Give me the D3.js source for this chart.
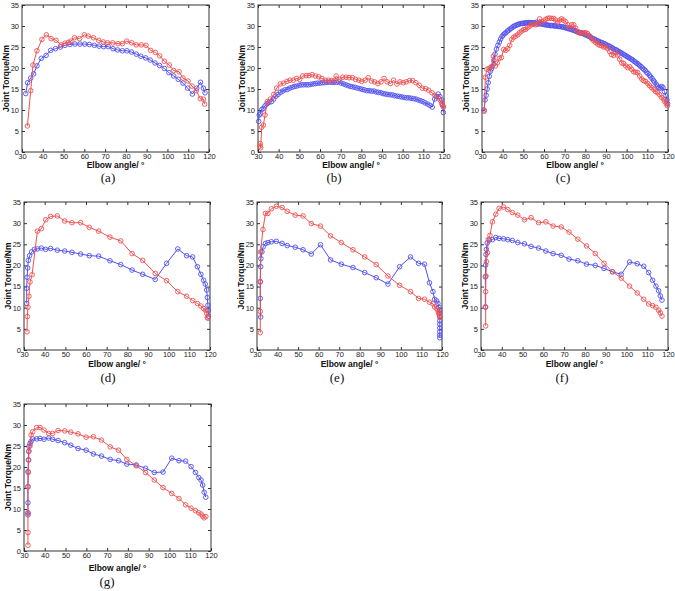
<!DOCTYPE html>
<html><head><meta charset="utf-8">
<script src="https://cdn.jsdelivr.net/npm/d3@7"></script>
<style>
html,body{margin:0;padding:0;background:#fff;}
svg{display:block;}
</style></head>
<body>
<svg id="chart" width="675" height="591"></svg>
<script>
// ---------- data (elbow angle in degrees, joint torque in Nm) ----------
const xTicks = [30,40,50,60,70,80,90,100,110,120];
const yTicks = [0,5,10,15,20,25,30,35];
const panelLabels = ["(a)","(b)","(c)","(d)","(e)","(f)","(g)"];
const xTitle = "Elbow angle/ °";
const yTitle = "Joint Torque/Nm";

const redA = [[32.6,6.2],[34.2,14.6],[35.3,20.7],[37.2,24.1],[39.6,26.8],[41.7,27.9],[44.0,27.0],[46.4,26.6],[48.8,25.5],[50.7,25.9],[52.3,26.1],[53.5,26.4],[55.3,27.2],[57.7,27.0],[60.0,27.9],[61.9,27.6],[64.4,27.2],[66.9,26.6],[69.1,26.2],[71.2,26.0],[73.7,26.0],[76.2,25.8],[78.3,25.8],[80.4,26.4],[82.8,26.0],[85.0,25.5],[87.4,25.5],[89.7,25.4],[91.9,24.2],[94.2,23.7],[96.3,22.9],[98.5,21.6],[100.9,20.7],[103.0,19.4],[105.6,19.1],[107.5,17.6],[109.9,16.9],[111.8,15.7],[113.9,14.6],[115.8,12.7],[117.3,12.6],[117.9,11.4]];
const blueA = [[31.8,13.9],[32.7,16.5],[34.2,17.6],[35.6,18.6],[37.2,20.5],[39.3,22.3],[41.6,23.0],[43.8,24.2],[46.1,24.6],[48.5,25.0],[50.7,25.4],[53.1,25.6],[55.5,25.7],[57.9,25.7],[60.2,25.7],[62.4,25.6],[64.8,25.4],[67.1,25.2],[69.3,25.1],[71.5,25.1],[73.8,24.6],[76.0,24.3],[78.3,24.1],[80.5,24.1],[82.7,23.8],[85.0,23.3],[87.2,22.8],[89.5,22.4],[91.7,21.9],[94.0,21.2],[96.2,20.6],[98.5,19.9],[100.7,18.9],[103.0,18.1],[105.2,17.3],[107.5,16.4],[109.7,15.2],[112.0,13.8],[114.1,15.2],[115.9,16.6],[117.3,15.2],[118.1,14.1]];

const redB = [[31.0,1.4],[31.1,2.0],[31.3,1.0],[31.8,5.9],[32.6,6.4],[33.4,8.8],[34.5,12.0],[36.0,12.6],[37.6,13.7],[39.0,15.2],[40.8,16.2],[42.4,16.4],[44.0,16.8],[45.5,17.1],[47.1,17.1],[48.7,17.5],[50.2,17.3],[51.6,18.1],[53.3,18.2],[54.7,18.2],[56.2,18.4],[57.8,18.1],[59.4,17.9],[60.9,17.5],[62.5,17.1],[64.0,17.1],[65.5,17.0],[67.2,17.1],[67.8,18.1],[69.6,17.3],[71.0,17.8],[72.6,17.8],[74.1,17.7],[75.7,17.7],[77.2,17.3],[78.8,17.1],[80.2,16.8],[81.9,17.1],[83.3,17.7],[84.9,16.9],[86.4,16.7],[88.0,16.3],[89.5,16.7],[91.0,17.5],[92.5,16.7],[94.1,16.3],[95.6,17.1],[97.2,16.2],[98.7,16.7],[100.3,16.5],[101.7,16.7],[103.3,17.0],[104.8,17.0],[106.4,16.5],[108.0,15.9],[109.5,15.2],[111.1,15.1],[112.6,14.7],[114.2,14.1],[115.6,13.5],[117.2,12.9],[118.2,12.3],[118.9,11.6],[119.3,11.1],[119.7,10.7]];
const blueB = [[30.3,7.3],[30.6,8.8],[31.1,9.1],[31.8,10.1],[32.6,10.4],[33.4,11.0],[34.4,11.5],[35.3,11.8],[36.5,12.0],[37.6,12.6],[38.6,13.3],[39.7,13.7],[40.8,14.2],[41.9,14.5],[43.0,14.8],[44.2,14.9],[45.3,15.2],[46.5,15.4],[47.6,15.6],[48.7,15.7],[49.9,15.9],[51.0,16.0],[52.1,16.0],[53.3,16.0],[54.4,16.0],[55.5,16.1],[56.7,16.2],[57.8,16.3],[58.9,16.4],[60.1,16.4],[61.2,16.5],[62.3,16.5],[63.4,16.6],[64.6,16.6],[65.7,16.6],[66.8,16.6],[68.0,16.6],[69.1,16.7],[70.2,16.4],[71.4,16.2],[72.5,16.0],[73.6,15.8],[74.8,15.6],[75.9,15.5],[77.0,15.4],[78.1,15.2],[79.3,15.1],[80.4,14.9],[81.5,14.8],[82.7,14.6],[83.8,14.6],[84.9,14.5],[86.1,14.5],[87.2,14.3],[88.3,14.2],[89.5,14.1],[90.6,13.9],[91.7,13.8],[92.8,13.7],[94.0,13.6],[95.1,13.6],[96.2,13.4],[97.4,13.3],[98.5,13.2],[99.6,13.1],[100.8,13.0],[101.9,12.9],[103.0,12.9],[104.1,12.8],[105.3,12.7],[106.4,12.6],[107.5,12.4],[108.7,12.2],[109.8,12.0],[110.9,11.7],[112.1,11.4],[113.2,11.1],[114.3,10.7],[115.5,12.6],[116.3,13.2],[117.2,13.8],[118.0,13.2],[118.9,12.4],[119.3,11.2],[119.7,9.4]];

const redC = [[31.1,9.7],[31.6,17.8],[32.4,19.7],[33.5,19.9],[34.5,20.3],[35.5,22.8],[36.5,20.5],[37.4,21.2],[38.4,22.3],[39.4,22.5],[40.5,24.4],[41.5,24.2],[42.4,24.6],[43.4,25.4],[44.4,26.8],[45.3,27.3],[46.3,27.6],[47.3,27.9],[48.2,28.4],[49.2,28.8],[50.2,29.1],[51.1,29.2],[52.1,29.6],[53.1,30.0],[54.0,30.3],[55.0,30.4],[56.0,30.3],[56.9,30.4],[57.9,31.7],[58.9,30.9],[59.8,31.2],[60.8,31.6],[61.8,31.8],[62.7,31.9],[63.7,31.8],[64.7,31.8],[65.6,31.4],[66.6,30.9],[67.6,31.4],[68.5,31.7],[69.5,31.4],[70.5,31.0],[71.5,30.3],[72.4,29.6],[73.4,30.3],[74.4,30.3],[75.3,29.5],[76.3,28.6],[77.3,28.3],[78.2,28.4],[79.2,28.4],[80.2,28.4],[81.1,28.2],[82.1,27.6],[83.1,27.0],[84.0,26.5],[85.0,26.1],[86.0,25.7],[86.9,25.4],[87.9,25.3],[88.9,25.0],[89.8,25.0],[90.8,24.6],[91.8,23.9],[92.7,23.2],[93.7,23.0],[94.7,23.6],[95.6,23.1],[96.6,22.1],[97.6,21.2],[98.5,21.1],[99.5,20.5],[100.5,20.1],[101.5,20.3],[102.4,19.7],[103.4,19.1],[104.4,19.0],[105.3,18.9],[106.3,18.1],[107.3,17.4],[108.2,17.0],[109.2,16.8],[110.2,16.3],[111.1,15.8],[112.1,15.3],[113.1,14.9],[114.0,14.4],[115.0,14.1],[116.0,13.6],[116.9,13.0],[117.9,12.6],[118.5,12.0],[119.2,11.5],[119.7,11.0]];
const blueC = [[31.0,10.0],[31.5,12.4],[32.0,13.5],[32.5,15.0],[33.0,16.5],[33.5,18.0],[34.0,19.2],[34.5,19.8],[35.0,20.4],[35.7,21.8],[36.3,23.3],[37.0,24.5],[37.7,25.4],[38.4,26.2],[39.0,26.9],[39.7,27.5],[40.3,27.9],[41.0,28.2],[41.6,28.4],[42.3,28.8],[43.0,29.0],[43.6,29.3],[44.3,29.5],[45.0,29.8],[45.6,30.0],[46.3,30.1],[47.0,30.3],[47.6,30.4],[48.3,30.5],[49.0,30.6],[49.6,30.6],[50.3,30.7],[51.0,30.7],[51.6,30.8],[52.3,30.8],[53.0,30.8],[53.6,30.8],[54.3,30.8],[55.0,30.7],[55.6,30.7],[56.3,30.9],[57.0,30.7],[57.6,30.6],[58.3,30.5],[59.0,30.5],[59.6,30.4],[60.3,30.3],[61.0,30.3],[61.6,30.2],[62.3,30.2],[63.0,30.1],[63.6,30.1],[64.3,30.1],[65.0,30.0],[65.6,30.0],[66.3,30.0],[67.0,29.9],[67.6,29.9],[68.3,29.8],[69.0,29.8],[69.6,29.7],[70.3,29.6],[71.0,29.5],[71.6,29.4],[72.3,29.3],[73.0,29.2],[73.6,29.1],[74.3,29.0],[75.0,28.9],[75.6,28.7],[76.3,28.6],[77.0,28.5],[77.6,28.4],[78.3,28.3],[79.0,28.2],[79.6,28.0],[80.3,27.9],[81.0,27.7],[81.6,27.6],[82.3,27.4],[83.0,27.2],[83.6,27.0],[84.3,26.9],[85.0,26.7],[85.6,26.5],[86.3,26.4],[87.0,26.2],[87.6,26.1],[88.3,26.0],[89.0,25.8],[89.6,25.7],[90.3,25.5],[91.0,25.3],[91.6,25.2],[92.3,25.0],[93.0,24.8],[93.6,24.6],[94.3,24.4],[95.0,24.3],[95.6,24.1],[96.3,23.9],[97.0,23.7],[97.6,23.5],[98.3,23.3],[99.0,23.1],[99.6,22.9],[100.3,22.7],[101.0,22.5],[101.6,22.3],[102.3,22.1],[103.0,21.9],[103.6,21.6],[104.3,21.4],[105.0,21.1],[105.6,20.9],[106.3,20.6],[107.0,20.3],[107.6,20.0],[108.3,19.7],[109.0,19.4],[109.6,19.0],[110.3,18.7],[111.0,18.3],[111.6,17.9],[112.3,17.5],[113.0,17.0],[113.6,16.6],[114.3,16.1],[115.0,15.7],[115.6,15.3],[116.3,15.2],[117.0,15.6],[117.6,15.3],[118.3,14.4],[119.0,13.4],[119.5,12.4],[119.8,11.5]];

const redD = [[31.45,4.3],[31.6,7.9],[31.9,10.1],[32.4,12.7],[32.9,16.1],[33.9,17.8],[36.5,28.1],[38.4,28.7],[40.5,30.8],[42.9,31.6],[46.1,31.7],[49.7,30.5],[53.2,30.1],[57.4,30.1],[61.6,29.0],[66.1,28.1],[71.6,26.7],[76.8,25.8],[82.3,22.8],[87.4,21.2],[93.5,18.1],[99.0,16.4],[104.4,13.8],[108.7,12.7],[111.6,11.7],[113.9,11.0],[115.6,10.4],[116.9,9.8],[117.9,9.4],[118.4,8.7],[118.7,7.7],[119.0,7.5]];
const blueD = [[31.3,11.0],[31.3,14.6],[31.5,17.2],[31.8,19.4],[32.1,21.2],[32.7,22.3],[33.7,23.2],[35.0,23.8],[36.5,23.9],[38.4,24.1],[40.5,23.8],[42.9,24.0],[46.1,23.6],[49.7,23.4],[53.2,23.1],[57.4,22.7],[61.6,22.3],[66.1,22.2],[71.6,21.1],[76.8,20.2],[82.3,18.9],[87.4,17.9],[93.5,16.7],[99.0,20.5],[104.4,23.9],[108.7,22.3],[111.6,22.0],[113.9,19.7],[115.6,17.9],[116.9,16.5],[117.7,15.6],[118.4,14.2],[118.7,12.4],[119.0,10.6],[119.2,9.4],[119.2,8.0]];

const redE = [[31.6,4.1],[31.6,9.1],[31.6,16.2],[31.7,23.2],[32.9,28.5],[34.1,32.3],[35.3,32.3],[37.0,33.4],[39.4,34.0],[42.2,33.7],[44.7,32.8],[48.6,31.9],[52.4,31.7],[56.4,29.9],[60.9,29.3],[65.8,27.0],[71.0,25.4],[76.7,23.7],[82.4,22.0],[88.0,20.2],[93.7,17.5],[99.4,15.3],[104.7,13.8],[108.6,12.2],[111.5,12.0],[113.9,11.3],[115.6,10.9],[116.4,10.2],[117.4,9.8],[118.0,9.4],[118.3,8.8],[118.7,8.5],[118.8,8.1],[119.0,7.7]];
const blueE = [[31.8,7.8],[31.6,12.2],[31.6,16.1],[31.8,19.7],[31.9,21.6],[32.4,23.2],[33.0,24.4],[34.1,25.2],[35.3,25.4],[37.0,25.6],[39.4,25.7],[42.2,25.2],[44.7,24.7],[48.6,24.3],[52.4,23.7],[56.4,22.7],[60.9,24.9],[65.8,21.3],[71.0,20.3],[76.7,19.5],[82.4,18.3],[88.0,17.1],[93.7,15.6],[99.4,19.7],[104.7,22.0],[108.6,20.5],[111.5,20.3],[113.9,15.9],[115.6,13.8],[116.4,12.0],[117.4,11.6],[118.0,11.0],[118.5,10.1],[118.8,9.4],[118.9,8.7],[118.9,7.9],[118.9,6.9],[118.9,6.1],[118.9,5.2],[118.9,4.3],[118.9,3.5],[118.9,2.9]];

const redF = [[32.25,5.7],[32.25,10.1],[32.25,13.8],[32.4,17.5],[32.6,20.9],[33.1,23.0],[33.5,26.1],[34.3,27.1],[35.5,30.3],[37.1,32.1],[38.7,33.5],[40.9,33.8],[42.9,33.2],[45.1,32.5],[47.7,31.9],[50.9,30.8],[54.1,31.3],[57.7,30.1],[61.2,30.3],[64.7,29.3],[68.6,29.1],[72.4,27.9],[76.6,26.2],[80.8,24.6],[85.0,22.8],[89.2,20.5],[93.3,18.5],[97.5,17.0],[101.5,15.1],[105.2,13.5],[108.3,12.0],[110.7,10.9],[112.6,10.5],[114.2,10.1],[115.5,9.4],[116.3,8.8],[117.1,8.0]];
const blueF = [[32.1,10.2],[32.1,17.3],[32.25,20.1],[32.4,22.6],[32.6,23.8],[33.0,25.3],[34.0,26.0],[35.5,26.1],[37.1,26.6],[38.7,26.4],[40.9,26.3],[42.9,26.1],[45.1,25.9],[47.7,25.4],[50.9,25.1],[54.1,24.5],[57.7,24.1],[61.2,23.4],[64.7,22.8],[68.6,22.4],[72.4,21.5],[76.6,21.1],[80.8,20.3],[85.0,20.0],[89.2,19.3],[93.3,18.5],[97.5,17.9],[101.5,20.8],[105.2,20.4],[108.3,19.8],[110.7,18.3],[112.6,16.5],[114.2,15.1],[115.5,14.0],[116.3,12.8],[117.1,11.8]];

const redG = [[31.9,1.35],[31.9,4.4],[31.9,9.0],[31.9,15.3],[32.1,18.7],[32.25,21.7],[32.4,23.8],[32.9,25.0],[33.4,27.6],[34.2,28.4],[36.1,29.4],[37.7,29.4],[39.6,28.8],[41.9,28.0],[43.8,28.0],[46.4,28.7],[49.6,28.6],[52.5,28.3],[56.0,27.9],[59.9,27.1],[63.4,27.2],[67.3,26.4],[71.5,24.8],[75.5,24.0],[79.5,21.8],[84.0,20.3],[88.5,18.7],[92.7,16.9],[96.9,15.1],[101.1,13.7],[104.6,12.5],[107.8,11.0],[110.4,10.2],[112.5,9.6],[114.1,9.1],[115.2,8.8],[116.0,8.3],[116.7,7.9],[117.5,8.2]];
const blueG = [[31.9,8.6],[31.9,9.1],[31.9,11.5],[31.9,15.3],[31.9,18.9],[32.1,21.7],[32.25,23.7],[32.4,24.9],[32.9,25.6],[33.4,26.1],[34.2,26.7],[36.1,26.7],[37.7,26.8],[39.6,26.6],[41.9,26.9],[43.8,26.6],[46.4,26.3],[49.6,25.8],[52.5,25.2],[56.0,24.4],[59.9,24.0],[63.4,23.1],[67.3,22.6],[71.5,21.8],[75.5,21.5],[79.5,20.7],[84.0,20.5],[88.5,19.7],[92.7,18.7],[96.9,18.8],[101.1,22.1],[104.6,21.5],[107.8,21.4],[110.4,20.1],[112.5,18.7],[114.1,17.5],[115.2,16.9],[116.0,15.7],[116.7,14.0],[117.5,12.8]];

// ---------- layout ----------
const svg = d3.select("#chart");
const RED = "#f05050", BLUE = "#5050f0", AXIS = "#333";
const SANS = "'Liberation Sans', Arial, sans-serif";
const SERIF = "'Liberation Serif', 'Times New Roman', serif";
const panels = [
  {label: panelLabels[0], red: redA, blue: blueA, box: [22, 5, 209, 152],   labelX: 108, titleDy: 16, labelDy: 30},
  {label: panelLabels[1], red: redB, blue: blueB, box: [258, 5, 444, 152],  labelX: 334, titleDy: 16, labelDy: 30},
  {label: panelLabels[2], red: redC, blue: blueC, box: [482, 5, 668, 152],  labelX: 563, titleDy: 16, labelDy: 30},
  {label: panelLabels[3], red: redD, blue: blueD, box: [24, 202, 210, 350], labelX: 108, titleDy: 17, labelDy: 32},
  {label: panelLabels[4], red: redE, blue: blueE, box: [257, 202, 442, 350],labelX: 337, titleDy: 17, labelDy: 32},
  {label: panelLabels[5], red: redF, blue: blueF, box: [481, 202, 668, 350],labelX: 562, titleDy: 17, labelDy: 32},
  {label: panelLabels[6], red: redG, blue: blueG, box: [24, 404, 211, 551], labelX: 107, titleDy: 20, labelDy: 35}
];

panels.forEach(p => {
  const [x0, y0, x1, y1] = p.box;
  const x = d3.scaleLinear().domain([30, 120]).range([x0, x1]);
  const y = d3.scaleLinear().domain([0, 35]).range([y1, y0]);
  const g = svg.append("g");

  const tickStyle = sel => {
    sel.select(".domain").remove();
    sel.selectAll("line").attr("stroke", AXIS);
    sel.selectAll("text").attr("font-family", SANS)
      .attr("font-size", 7.5).attr("fill", "#222");
  };
  g.append("g").attr("transform", `translate(0,${y1})`)
    .call(d3.axisBottom(x).tickValues(xTicks).tickSizeInner(-3).tickSizeOuter(0).tickPadding(2))
    .call(tickStyle);
  g.append("g").attr("transform", `translate(${x0},0)`)
    .call(d3.axisLeft(y).tickValues(yTicks).tickSizeInner(-3).tickSizeOuter(0).tickPadding(3))
    .call(tickStyle);
  g.append("g").attr("transform", `translate(0,${y0})`)
    .call(d3.axisTop(x).tickValues(xTicks).tickSizeInner(-3).tickSizeOuter(0).tickFormat(""))
    .call(tickStyle);
  g.append("g").attr("transform", `translate(${x1},0)`)
    .call(d3.axisRight(y).tickValues(yTicks).tickSizeInner(-3).tickSizeOuter(0).tickFormat(""))
    .call(tickStyle);

  // frame
  g.append("rect").attr("x", x0).attr("y", y0).attr("width", x1 - x0).attr("height", y1 - y0)
    .attr("fill", "none").attr("stroke", AXIS).attr("stroke-width", 1);

  // titles
  g.append("text").attr("x", (x0 + x1) / 2).attr("y", y1 + p.titleDy)
    .attr("text-anchor", "middle").attr("font-family", SANS)
    .attr("font-weight", "bold").attr("font-size", 8.5).attr("fill", "#111").text(xTitle);
  g.append("text").attr("transform", `translate(${x0 - 13},${(y0 + y1) / 2}) rotate(-90)`)
    .attr("text-anchor", "middle").attr("font-family", SANS)
    .attr("font-weight", "bold").attr("font-size", 8.5).attr("fill", "#111").text(yTitle);
  g.append("text").attr("x", p.labelX).attr("y", y1 + p.labelDy)
    .attr("text-anchor", "middle").attr("font-family", SERIF)
    .attr("font-size", 13).attr("fill", "#111").text(p.label);

  const line = d3.line().x(d => x(d[0])).y(d => y(d[1]));
  [[p.blue, BLUE], [p.red, RED]].forEach(([data, col]) => {
    g.append("path").datum(data).attr("d", line).attr("fill", "none")
      .attr("stroke", col).attr("stroke-width", 1);
    g.selectAll(null).data(data).enter().append("circle")
      .attr("cx", d => x(d[0])).attr("cy", d => y(d[1])).attr("r", 2.3)
      .attr("fill", "none").attr("stroke", col).attr("stroke-width", 0.9);
  });
});
</script>
</body></html>
